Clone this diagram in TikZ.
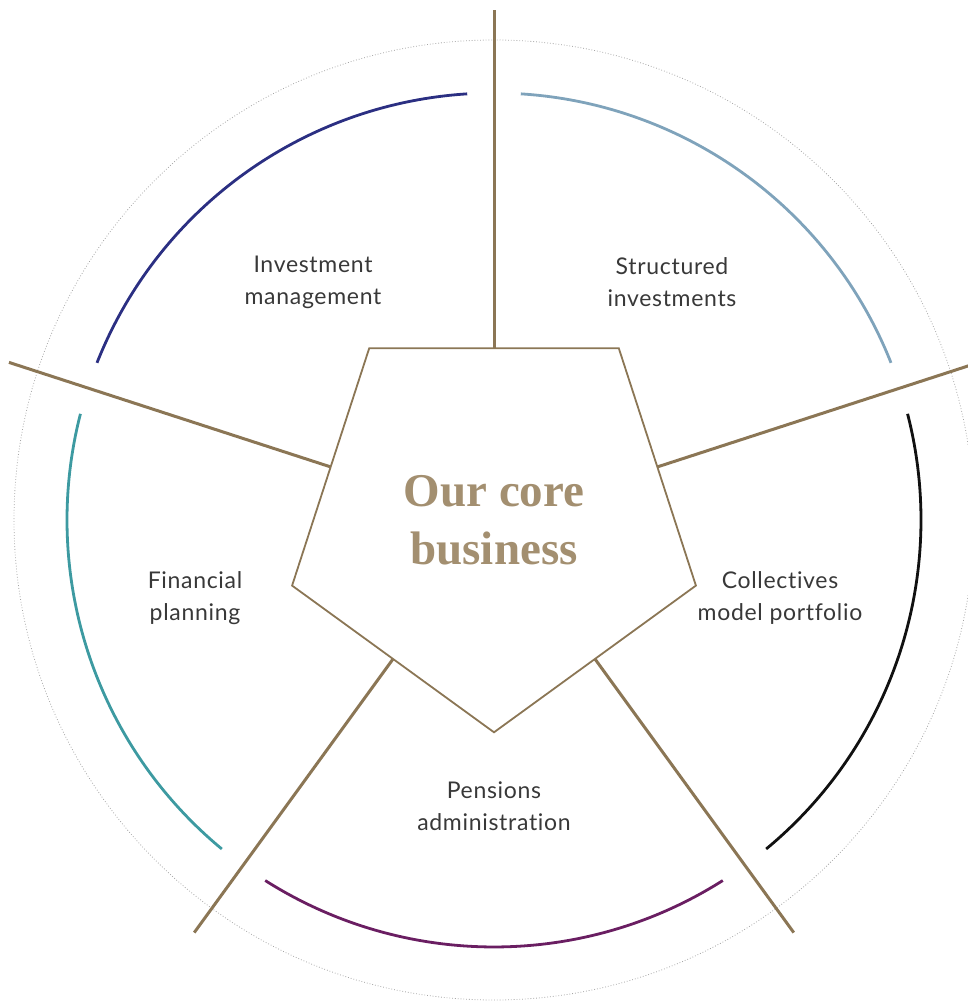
\documentclass[tikz,border=0pt]{standalone}
\usepackage{fontspec}
\usetikzlibrary{calc,shapes.geometric}
\setmainfont{Lato}[Ligatures={NoCommon,NoRare,NoDiscretionary}, LetterSpace=3]
\newfontfamily\titlefont{Liberation Serif}
\definecolor{spokebrown}{HTML}{8B7655}
\definecolor{titlebrown}{HTML}{A38F70}
\definecolor{navyarc}{HTML}{2B2F82}
\definecolor{skyarc}{HTML}{7FA3BB}
\definecolor{tealarc}{HTML}{3D9AA1}
\definecolor{plumarc}{HTML}{6A1E62}
\definecolor{inkarc}{HTML}{111111}
\definecolor{labelgrey}{HTML}{383838}
\tikzset{
  spoke/.style={draw=spokebrown, line width=3pt},
  corebox/.style={regular polygon, regular polygon sides=5, shape border rotate=180,
    minimum size=424.6pt, inner sep=0pt, draw=spokebrown, line width=1.8pt,
    text=titlebrown, align=center, font=\titlefont\bfseries\fontsize{47}{58}\selectfont},
  segarc/.style={line width=2.8pt},
  seglabel/.style={align=center, text=labelgrey, font=\fontsize{23}{32}\selectfont},
  guide/.style={draw=gray!70, line width=0.8pt, dotted}
}
\begin{document}
\begin{tikzpicture}[x=1pt,y=1pt]
\useasboundingbox (0,0) rectangle (968,1001);
\clip (0,0) rectangle (968,1001);
\coordinate (c) at (494,481);
% faint outer guide ring
\draw[guide] (c) circle (480);
% coloured segment arcs
\draw[segarc, navyarc] ($(c)+(93.6:427)$) arc[start angle=93.6, end angle=158.4, radius=427];
\draw[segarc, skyarc] ($(c)+(21.6:427)$) arc[start angle=21.6, end angle=86.4, radius=427];
\draw[segarc, inkarc] ($(c)+(-50.4:427)$) arc[start angle=-50.4, end angle=14.4, radius=427];
\draw[segarc, plumarc] ($(c)+(-122.4:427)$) arc[start angle=-122.4, end angle=-57.6, radius=427];
\draw[segarc, tealarc] ($(c)+(165.6:427)$) arc[start angle=165.6, end angle=230.4, radius=427];
% central pentagon
\node[corebox] (core) at (c) {Our core\\business};
% spokes from the pentagon sides outwards
\foreach \a/\n in {90/top,18/right,-54/lowright,-126/lowleft,162/left}{
  \coordinate (\n-in) at ($(c)+(\a:171.8)$);
  \coordinate (\n-out) at ($(c)+(\a:510)$);
  \draw[spoke] (\n-in) -- (\n-out);
}
% segment labels
\node[seglabel] (invest) at (313,719) {Investment\\management};
\node[seglabel] (struct) at (672,719) {Structured\\investments};
\node[seglabel] (collect) at (780,403) {Collectives\\model portfolio};
\node[seglabel] (pension) at (494,195) {Pensions\\administration};
\node[seglabel] (finance) at (195,403) {Financial\\planning};
\end{tikzpicture}
\end{document}
